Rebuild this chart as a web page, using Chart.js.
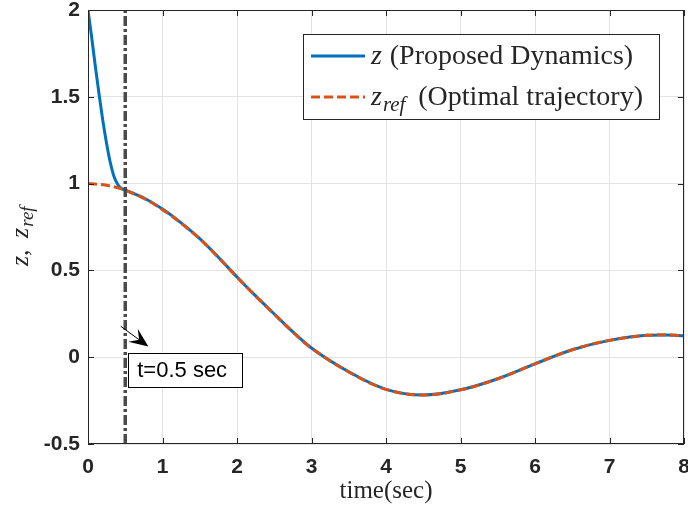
<!DOCTYPE html>
<html>
<head>
<meta charset="utf-8">
<script src="https://cdn.jsdelivr.net/npm/chart.js@4.4.1/dist/chart.umd.min.js"></script>
<style>
  html, body { margin: 0; padding: 0; background: #fff; }
</style>
</head>
<body>
<canvas id="zChart" width="688" height="508"></canvas>
<script>
// 최적 궤적 z_ref
const timeRef = [0, 0.25, 0.5, 0.75, 1, 1.25, 1.5, 1.75, 2, 2.25, 2.5, 2.75, 3, 3.5, 4, 4.5, 5, 5.5, 6, 6.5, 7, 7.5, 7.75, 8];
const zRef = [1.0, 0.99, 0.962, 0.915, 0.85, 0.772, 0.682, 0.575, 0.461, 0.352, 0.248, 0.145, 0.052, -0.085, -0.185, -0.218, -0.188, -0.124, -0.038, 0.043, 0.097, 0.126, 0.128, 0.124];

// 제안 동역학 z
const timeZ = [0, 0.05, 0.1, 0.15, 0.2, 0.25, 0.3, 0.35, 0.4, 0.45, 0.5, 0.75, 1, 1.25, 1.5, 1.75, 2, 2.25, 2.5, 2.75, 3, 3.5, 4, 4.5, 5, 5.5, 6, 6.5, 7, 7.5, 7.75, 8];
const zProp = [2.0, 1.84, 1.67, 1.51, 1.36, 1.23, 1.12, 1.04, 0.995, 0.972, 0.962, 0.917, 0.853, 0.774, 0.683, 0.576, 0.462, 0.353, 0.249, 0.146, 0.053, -0.084, -0.185, -0.218, -0.188, -0.124, -0.038, 0.043, 0.097, 0.126, 0.128, 0.124];

// 축 눈금
const xTicks = [0, 1, 2, 3, 4, 5, 6, 7, 8];
const yTicks = [-0.5, 0, 0.5, 1, 1.5, 2];

// 표시선 / 주석
const markTime = 0.5;
const markLabel = 't=0.5 sec';

// 범례 텍스트
const legendSym = ['z', 'z'];
const legendSub = ['', 'ref'];
const legendDesc = ['(Proposed Dynamics)', '(Optimal trajectory)'];

const BLUE = '#0072BD';
const ORANGE = '#D95319';
const AXIS = '#262626';
const SERIF = '"Liberation Serif", "DejaVu Serif", serif';
const SANS = '"Liberation Sans", Arial, sans-serif';

const toPts = (xs, ys) => xs.map((x, i) => ({ x: x, y: ys[i] }));

// 이탤릭 기호 + 아래첨자 + 설명 그리기
function drawRich(ctx, x, y, sym, sub, desc, size) {
  ctx.textBaseline = 'alphabetic';
  ctx.textAlign = 'left';
  ctx.font = 'italic ' + size + 'px ' + SERIF;
  ctx.fillText(sym, x, y);
  x += ctx.measureText(sym).width;
  if (sub) {
    const s = Math.round(size * 0.75);
    ctx.font = 'italic ' + s + 'px ' + SERIF;
    ctx.fillText(sub, x + 1, y + size * 0.2);
    x += ctx.measureText(sub).width + 6;
  }
  if (desc) {
    ctx.font = size + 'px ' + SERIF;
    ctx.fillText(desc, x + size * 0.28, y);
  }
}

const decorations = {
  id: 'decorations',
  afterDraw(chart) {
    const { ctx, chartArea: a, scales: { x, y } } = chart;
    ctx.save();

    // 축 박스와 안쪽 눈금
    ctx.strokeStyle = AXIS;
    ctx.lineWidth = 1;
    ctx.strokeRect(a.left + 0.5, a.top + 0.5, a.right - a.left - 1, a.bottom - a.top - 1);
    ctx.beginPath();
    xTicks.forEach(v => {
      const px = Math.round(x.getPixelForValue(v)) + 0.5;
      ctx.moveTo(px, a.bottom); ctx.lineTo(px, a.bottom - 6);
      ctx.moveTo(px, a.top); ctx.lineTo(px, a.top + 6);
    });
    yTicks.forEach(v => {
      const py = Math.round(y.getPixelForValue(v)) + 0.5;
      ctx.moveTo(a.left, py); ctx.lineTo(a.left + 6, py);
      ctx.moveTo(a.right, py); ctx.lineTo(a.right - 6, py);
    });
    ctx.stroke();

    // 축 제목
    ctx.fillStyle = AXIS;
    ctx.font = '25px ' + SERIF;
    ctx.textAlign = 'center';
    ctx.textBaseline = 'middle';
    ctx.fillText('time(sec)', (a.left + a.right) / 2, a.bottom + 47);

    ctx.save();
    ctx.translate(28, (a.top + a.bottom) / 2 + 39);
    ctx.rotate(-Math.PI / 2);
    ctx.font = 'italic 26px ' + SERIF;
    ctx.textAlign = 'left';
    ctx.textBaseline = 'alphabetic';
    ctx.fillText('z', 0, 0);
    let cx = ctx.measureText('z').width;
    ctx.font = '26px ' + SERIF;
    ctx.fillText(',', cx, 0);
    cx += ctx.measureText(', ').width + 5;
    ctx.font = 'italic 26px ' + SERIF;
    ctx.fillText('z', cx, 0);
    cx += ctx.measureText('z').width + 1;
    ctx.font = 'italic 19px ' + SERIF;
    ctx.fillText('ref', cx, 5);
    ctx.restore();

    // 범례
    const bw = 356, bh = 85;
    const bx = a.right - 25 - bw, by = a.top + 24;
    ctx.fillStyle = '#fff';
    ctx.fillRect(bx, by, bw, bh);
    ctx.strokeStyle = AXIS;
    ctx.lineWidth = 1;
    ctx.strokeRect(bx + 0.5, by + 0.5, bw, bh);
    const rows = [by + 22, by + 63];
    const colors = [BLUE, ORANGE];
    const dashes = [[], [9, 4]];
    rows.forEach((ry, i) => {
      ctx.strokeStyle = colors[i];
      ctx.lineWidth = 3;
      ctx.setLineDash(dashes[i]);
      ctx.beginPath();
      ctx.moveTo(bx + 8, ry);
      ctx.lineTo(bx + 62, ry);
      ctx.stroke();
      ctx.setLineDash([]);
      ctx.fillStyle = AXIS;
      drawRich(ctx, bx + 68, ry + 8, legendSym[i], legendSub[i], legendDesc[i], 28);
    });

    // 화살표 주석
    const x0 = x.getPixelForValue(0.44), y0 = y.getPixelForValue(0.178);
    const x1 = x.getPixelForValue(0.81), y1 = y.getPixelForValue(0.062);
    const dx = x1 - x0, dy = y1 - y0, len = Math.hypot(dx, dy);
    const ux = dx / len, uy = dy / len, nx = -uy, ny = ux;
    ctx.strokeStyle = '#000';
    ctx.fillStyle = '#000';
    ctx.lineWidth = 1;
    ctx.beginPath();
    ctx.moveTo(x0, y0);
    ctx.lineTo(x1 - ux * 10, y1 - uy * 10);
    ctx.stroke();
    const L = 19, W = 8;
    ctx.beginPath();
    ctx.moveTo(x1, y1);
    ctx.lineTo(x1 - ux * L + nx * W, y1 - uy * L + ny * W);
    ctx.lineTo(x1 - ux * L * 0.6, y1 - uy * L * 0.6);
    ctx.lineTo(x1 - ux * L - nx * W, y1 - uy * L - ny * W);
    ctx.closePath();
    ctx.fill();

    // 주석 상자
    const tx = x.getPixelForValue(0.54), ty = y.getPixelForValue(0.026);
    ctx.fillStyle = '#fff';
    ctx.fillRect(tx, ty, 114, 34);
    ctx.strokeStyle = '#000';
    ctx.strokeRect(Math.round(tx) + 0.5, Math.round(ty) + 0.5, 114, 34);
    ctx.fillStyle = '#000';
    ctx.font = '22px ' + SANS;
    ctx.textAlign = 'left';
    ctx.textBaseline = 'middle';
    ctx.fillText(markLabel, tx + 9, ty + 18);

    ctx.restore();
  }
};

const ctxZ = document.getElementById('zChart');
new Chart(ctxZ, {
  type: 'line',
  data: {
    datasets: [
      {
        label: 'z (Proposed Dynamics)',
        data: toPts(timeZ, zProp),
        borderColor: BLUE,
        borderWidth: 3,
        pointRadius: 0,
        cubicInterpolationMode: 'monotone',
        order: 2
      },
      {
        label: 'z_ref (Optimal trajectory)',
        data: toPts(timeRef, zRef),
        borderColor: ORANGE,
        borderWidth: 3,
        borderDash: [9, 4],
        pointRadius: 0,
        tension: 0.4,
        order: 1
      },
      {
        label: 't=0.5',
        data: [{ x: markTime, y: yTicks[0] }, { x: markTime, y: yTicks[yTicks.length - 1] }],
        borderColor: '#4a4a4a',
        borderWidth: 3.5,
        borderDash: [10, 3, 3, 3],
        pointRadius: 0,
        order: 0
      }
    ]
  },
  options: {
    responsive: false,
    animation: false,
    devicePixelRatio: 1,
    layout: { padding: { top: 10, right: 4, left: 0, bottom: 0 } },
    plugins: { legend: { display: false }, tooltip: { enabled: false } },
    scales: {
      x: {
        type: 'linear',
        min: xTicks[0],
        max: xTicks[xTicks.length - 1],
        afterBuildTicks: s => { s.ticks = xTicks.map(v => ({ value: v })); },
        afterFit: s => { s.height = 64; s.paddingLeft = 0; s.paddingRight = 0; },
        grid: { color: '#e3e3e3', drawTicks: false },
        border: { display: false },
        ticks: {
          padding: 11,
          color: AXIS,
          font: { family: SANS, size: 21, weight: 'bold' },
          callback: v => String(v)
        }
      },
      y: {
        min: yTicks[0],
        max: yTicks[yTicks.length - 1],
        afterBuildTicks: s => { s.ticks = yTicks.map(v => ({ value: v })); },
        afterFit: s => { s.width = 88; s.paddingTop = 0; s.paddingBottom = 0; },
        grid: { color: '#e3e3e3', drawTicks: false },
        border: { display: false },
        ticks: {
          padding: 8,
          color: AXIS,
          font: { family: SANS, size: 21, weight: 'bold' },
          callback: v => String(v)
        }
      }
    }
  },
  plugins: [decorations]
});
</script>
</body>
</html>
